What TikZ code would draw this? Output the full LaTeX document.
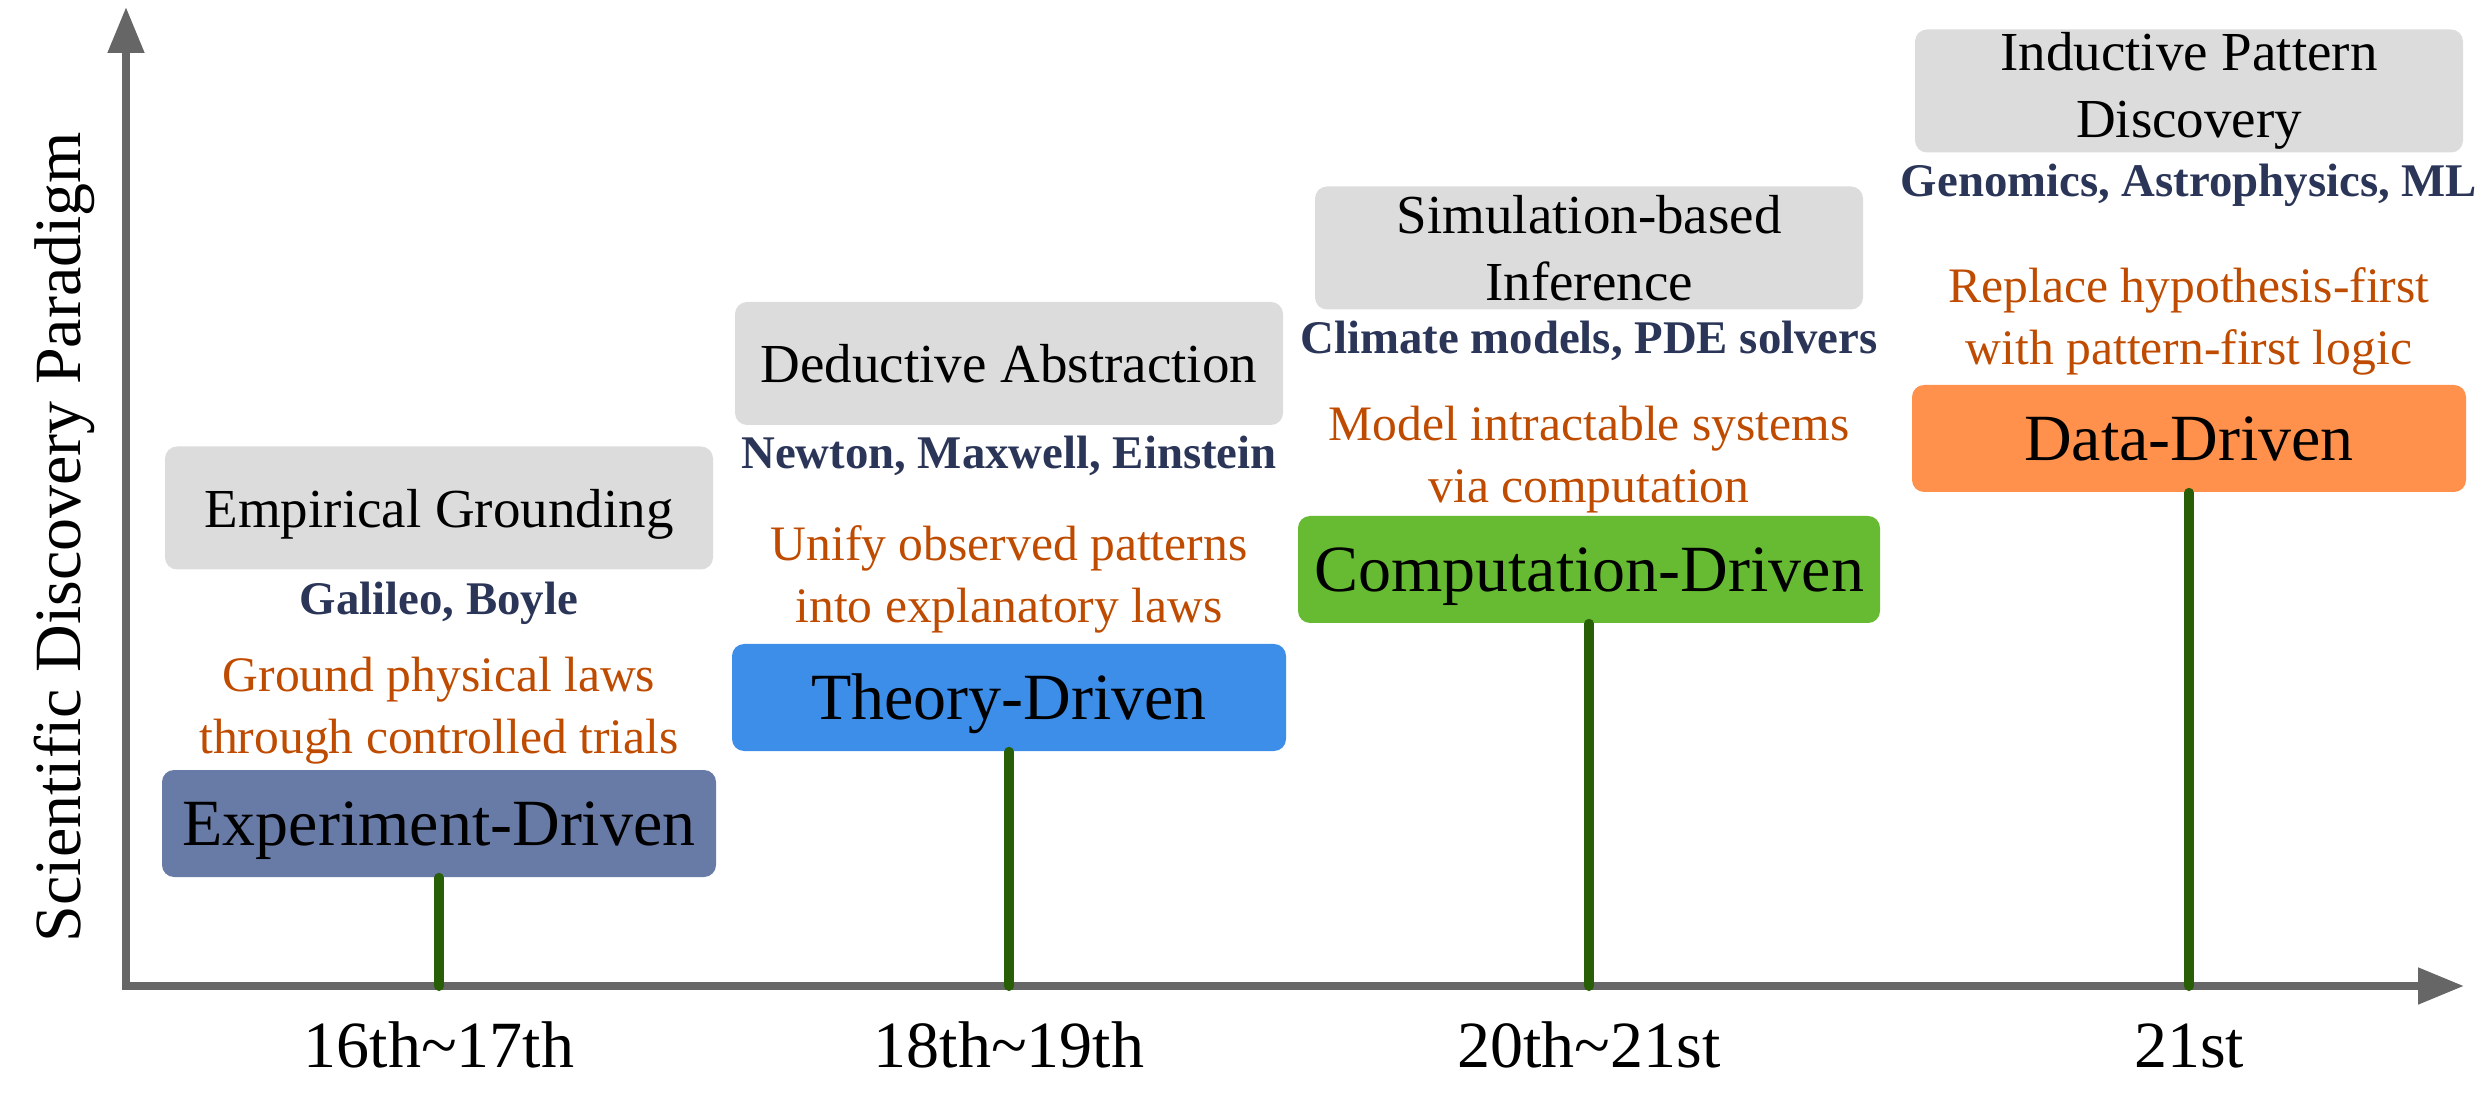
\documentclass[tikz,border=0pt]{standalone}
\usepackage{fontspec}
\setmainfont{Liberation Serif}
\usetikzlibrary{arrows.meta}

\definecolor{axisgray}{HTML}{666666}
\definecolor{stemgreen}{HTML}{285E06}
\definecolor{principlegray}{HTML}{DCDCDC}
\definecolor{namenavy}{HTML}{2A3558}
\definecolor{goalorange}{HTML}{BF4B00}
\definecolor{expslate}{HTML}{687AA6}
\definecolor{theoryblue}{HTML}{3C8EE9}
\definecolor{compgreen}{HTML}{66BB33}
\definecolor{dataorange}{HTML}{FF914D}

\tikzset{
  axis/.style={draw=axisgray, line width=2pt, {Triangle[length=11.5pt,width=8.75pt]}-{Triangle[length=11.5pt,width=8.75pt]}},
  stem/.style={draw=stemgreen, line width=2.5pt, line cap=round},
  paradigm/.style={rounded corners=3pt, minimum width=138.5pt, minimum height=26.75pt, inner sep=0pt, font=\fontsize{16.5}{19}\selectfont, text height=14.85pt, text depth=3.63pt},
  principle/.style={fill=principlegray, rounded corners=3pt, minimum width=137pt, minimum height=30.75pt, inner sep=0pt, align=center, font=\fontsize{13.75}{16.75}\selectfont},
  exemplars/.style={anchor=base, inner sep=0pt, text=namenavy, font=\bfseries\fontsize{11.7}{14}\selectfont},
  goal/.style={inner sep=0pt, align=center, text=goalorange, font=\fontsize{12.4}{15.5}\selectfont},
  era/.style={anchor=base, inner sep=0pt, font=\fontsize{16.5}{19}\selectfont}
}

\begin{document}
\begin{tikzpicture}[x=0.25pt,y=0.25pt,yscale=-1,xscale=1]
\useasboundingbox (0,0) rectangle (2481,1100);

%Shape: Axes
\coordinate (origin) at (126,986);
\coordinate (ytip) at (126,7);
\coordinate (xtip) at (2464,986);
\draw [axis] (ytip) -- (origin) -- (xtip);

% Text Node
\node [rotate=90, anchor=base, inner sep=0pt, font=\fontsize{16.5}{19}\selectfont] (ylabel) at (80,537) {Scientific Discovery Paradigm};

%Shape: Paradigm boxes
\node [paradigm, fill=expslate] (exp) at (439,823.5) {Experiment-Driven};
\node [paradigm, fill=theoryblue] (theory) at (1009,697.5) {Theory-Driven};
\node [paradigm, fill=compgreen, minimum width=145.5pt] (comp) at (1589,569.5) {Computation-Driven};
\node [paradigm, fill=dataorange] (data) at (2189,438.5) {Data-Driven};

%Shape: Principle boxes
\node [principle, text height=12.7pt, text depth=3pt] (empirical) at (439,508) {Empirical Grounding};
\node [principle, text height=12.7pt, text depth=3pt] (deductive) at (1009,363.5) {Deductive Abstraction};
\node [principle] (simulation) at (1589,248) {Simulation-based\\Inference};
\node [principle] (inductive) at (2189,91) {Inductive Pattern\\Discovery};

% Text Node
\node [exemplars] (galileo) at (439,614) {Galileo, Boyle};
\node [exemplars] (newton) at (1009,469) {Newton, Maxwell, Einstein};
\node [exemplars] (climate) at (1589,354) {Climate models, PDE solvers};
\node [exemplars] (genomics) at (2189,197) {Genomics, Astrophysics, ML};

% Text Node
\node [goal] (ground) at (439,711) {Ground physical laws\\through controlled trials};
\node [goal] (unify) at (1009,579) {Unify observed patterns\\into explanatory laws};
\node [goal] (model) at (1589,460) {Model intractable systems\\via computation};
\node [goal] (replace) at (2189,321) {Replace hypothesis-first\\with pattern-first logic};

%Shape: Stems
\draw [stem] (exp.south) -- (exp.south |- origin);
\draw [stem] (theory.south) -- (theory.south |- origin);
\draw [stem] (comp.south) -- (comp.south |- origin);
\draw [stem] (data.south) -- (data.south |- origin);

% Text Node
\node [era] (e1) at (439,1067) {16th\textasciitilde 17th};
\node [era] (e2) at (1009,1067) {18th\textasciitilde 19th};
\node [era] (e3) at (1589,1067) {20th\textasciitilde 21st};
\node [era] (e4) at (2189,1067) {21st};

\end{tikzpicture}
\end{document}
